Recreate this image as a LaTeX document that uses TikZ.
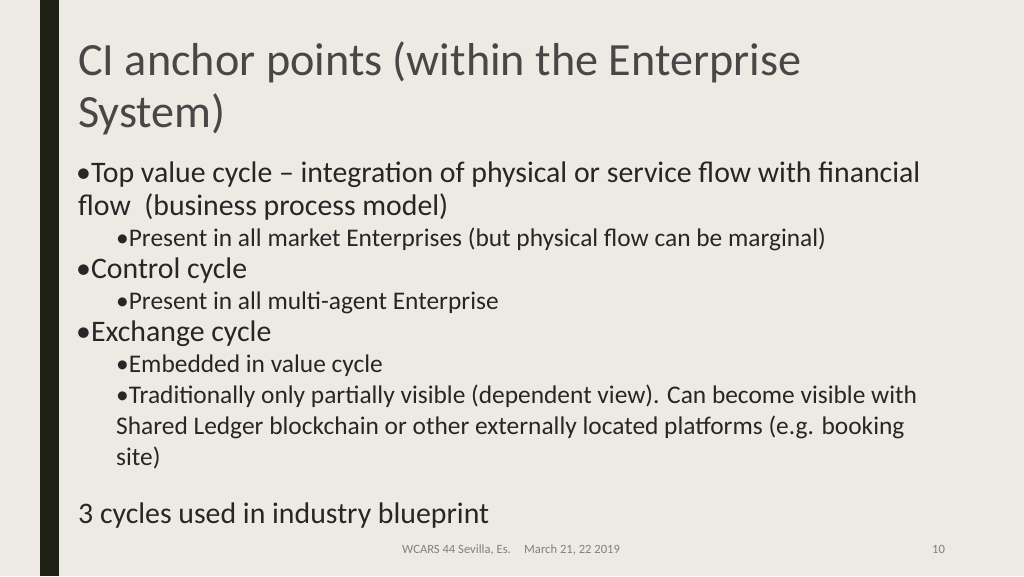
\documentclass[tikz,border=0pt]{standalone}
\usepackage{fontspec}
\setmainfont{Carlito}
\definecolor{bg}{HTML}{EDEAE3}
\definecolor{bar}{HTML}{1E2114}
\definecolor{txt}{HTML}{262626}
\begin{document}
\begin{tikzpicture}[x=1pt,y=-1pt,
  t/.style={anchor=base west,inner sep=0pt,text=txt},
  big/.style={t,font=\fontsize{29.8}{32}\selectfont},
  small/.style={t,font=\fontsize{25.4}{26}\selectfont},
  ttl/.style={t,font=\fontsize{46.2}{48}\selectfont,text=txt!85},
  foot/.style={t,font=\fontsize{12.6}{13}\selectfont,text=gray}]
\fill[bg] (0,0) rectangle (1024,576);
\useasboundingbox (0,0) rectangle (1024,576);
\fill[bar] (40,0) rectangle (59,576);
\node[ttl] (t1) at (78,75) {CI anchor points (within the Enterprise};
\node[ttl] (t2) at (78,127) {System)};
\node[big] (l1) at (76,182) {•Top value cycle – integration of physical or service flow with financial};
\node[big] (l2) at (78,215) {flow\ \ (business process model)};
\node[small] (l3) at (116,246) {•Present in all market Enterprises (but physical flow can be marginal)};
\node[big] (l4) at (76,278) {•Control cycle};
\node[small] (l5) at (116,309) {•Present in all multi-agent Enterprise};
\node[big] (l6) at (76,341) {•Exchange cycle};
\node[small] (l7) at (116,372) {•Embedded in value cycle};
\node[small] (l8) at (116,403) {•Traditionally only partially visible (dependent view). Can become visible with};
\node[small] (l9) at (116,434) {Shared Ledger blockchain or other externally located platforms (e.g. booking};
\node[small] (l10) at (116,465) {site)};
\node[big] (l11) at (78,523) {3 cycles used in industry blueprint};
\node[foot] (f1) at (402,553) {WCARS 44 Sevilla, Es.};
\node[foot] (f2) at (524,553) {March 21, 22 2019};
\node[foot] (f3) at (932,553) {10};
\end{tikzpicture}
\end{document}
